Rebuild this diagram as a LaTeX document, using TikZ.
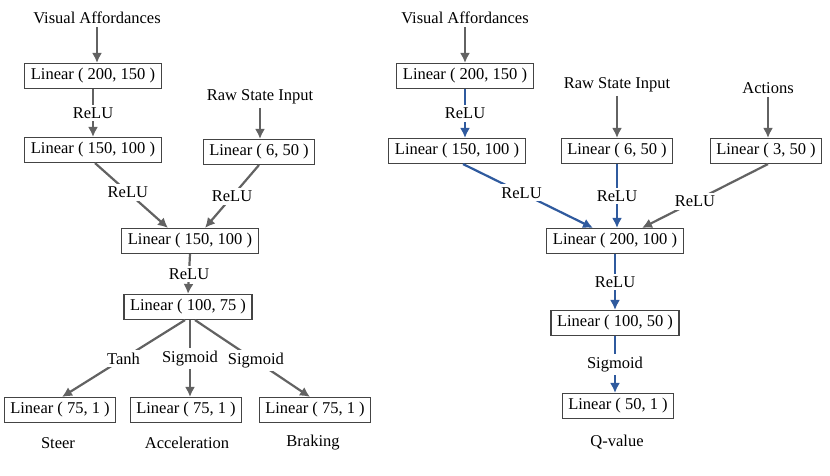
\documentclass[tikz,border=0pt]{standalone}
\usepackage{fontspec}
\setmainfont{Liberation Serif}
\usetikzlibrary{arrows.meta,calc}
\definecolor{arrgray}{HTML}{626262}
\definecolor{arrblue}{HTML}{2F5A9E}
\definecolor{boxgray}{HTML}{444444}
\begin{document}
\begin{tikzpicture}[x=1pt,y=-1pt,
  every node/.style={font=\fontsize{16.5}{18}\selectfont, text=black},
  layer/.style={draw=boxgray, line width=1.1pt, fill=white, inner xsep=6pt, minimum height=25pt, inner ysep=0pt},
  lbl/.style={fill=white, inner xsep=1.5pt, inner ysep=3pt},
  garr/.style={draw=arrgray, line width=2.2pt, -{Latex[length=10pt,width=10pt]}},
  barr/.style={draw=arrblue, line width=2.2pt, -{Latex[length=10pt,width=10pt]}},
]
\useasboundingbox (0,0) rectangle (830,475);
% left panel
\node (va1) at (97,18) {Visual Affordances};
\node[layer] (a1) at (93,76) {Linear ( 200, 150 )};
\node[layer] (a2) at (93,150) {Linear ( 150, 100 )};
\node (rs1) at (260,97) {Raw State Input};
\node[layer] (a3) at (259,152) {Linear ( 6, 50 )};
\node[layer] (a4) at (190,241) {Linear ( 150, 100 )};
\node[layer] (a5) at (188,307) {Linear ( 100, 75 )};
\node[layer] (o1) at (60,410) {Linear ( 75, 1 )};
\node[layer] (o2) at (186,410) {Linear ( 75, 1 )};
\node[layer] (o3) at (315,410) {Linear ( 75, 1 )};
\node (s1) at (58,443) {Steer};
\node (s2) at (187,443) {Acceleration};
\node (s3) at (313,443) {Braking};

\draw[garr] (va1.south) -- (va1.south |- a1.north);
\draw[garr] (a1.south) -- (a2.north) node[lbl,midway] {ReLU};
\draw[garr] ([xshift=2pt]a2.south) -- ([xshift=-22pt]a4.north) node[lbl,pos=0.45] {ReLU};
\draw[garr] (rs1.south) -- (rs1.south |- a3.north);
\draw[garr] (a3.south) -- ([xshift=15pt]a4.north) node[lbl,pos=0.5] {ReLU};
\draw[garr] (a4.south) -- (a5.north) node[lbl,midway] {ReLU};
\draw[garr] ([xshift=-3pt]a5.south) -- ([xshift=2pt]o1.north) node[lbl,pos=0.5] {Tanh};
\draw[garr] ([xshift=2pt]a5.south) -- ([xshift=2pt]a5.south |- o2.north) node[lbl,pos=0.5] {Sigmoid};
\draw[garr] ([xshift=7pt]a5.south) -- ([xshift=-5pt]o3.north) node[lbl,pos=0.53] {Sigmoid};

% right panel
\node (va2) at (465,18) {Visual Affordances};
\node[layer] (b1) at (465,76) {Linear ( 200, 150 )};
\node[layer] (b2) at (457,151) {Linear ( 150, 100 )};
\node (rs2) at (617,85) {Raw State Input};
\node[layer] (b3) at (617,151) {Linear ( 6, 50 )};
\node (ac) at (768,88) {Actions};
\node[layer] (b4) at (766,151) {Linear ( 3, 50 )};
\node[layer] (b5) at (615,241) {Linear ( 200, 100 )};
\node[layer] (b6) at (615,323) {Linear ( 100, 50 )};
\node[layer] (b7) at (618,406) {Linear ( 50, 1 )};
\node (qv) at (617,442) {Q-value};

\draw[garr] (va2.south) -- (va2.south |- b1.north);
\draw[barr] (b1.south) -- (b1.south |- b2.north) node[lbl,midway] {ReLU};
\draw[garr] (rs2.south) -- (rs2.south |- b3.north);
\draw[garr] (ac.south) -- (ac.south |- b4.north);
\draw[barr] ([xshift=6pt]b2.south) -- ([xshift=-22pt]b5.north) node[lbl,pos=0.45] {ReLU};
\draw[barr] (b3.south) -- (b3.south |- b5.north) node[lbl,midway] {ReLU};
\draw[garr] ([xshift=2pt]b4.south) -- ([xshift=27pt]b5.north) node[lbl,pos=0.58] {ReLU};
\draw[barr] (b5.south) -- (b6.north) node[lbl,midway] {ReLU};
\draw[barr] (b6.south) -- (b6.south |- b7.north) node[lbl,midway] {Sigmoid};
\end{tikzpicture}
\end{document}
